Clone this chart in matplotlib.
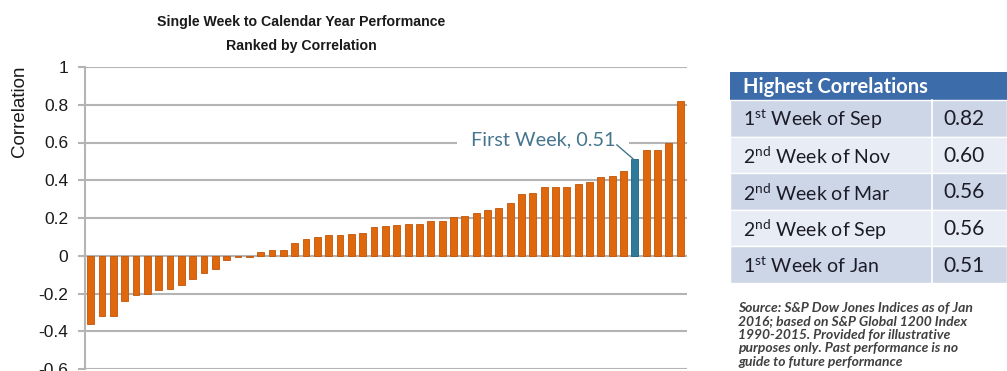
import matplotlib
matplotlib.use("Agg")
import matplotlib.pyplot as plt
from matplotlib import font_manager
from matplotlib.patches import Rectangle

# ---------------- data ----------------
correlations = [-0.36, -0.32, -0.32, -0.24, -0.21, -0.20, -0.18, -0.175, -0.155, -0.125,
                -0.09, -0.07, -0.02, -0.005, -0.005, 0.02, 0.03, 0.03, 0.067, 0.088,
                0.10, 0.108, 0.108, 0.117, 0.122, 0.152, 0.155, 0.161, 0.168, 0.17,
                0.186, 0.186, 0.203, 0.21, 0.226, 0.244, 0.253, 0.281, 0.327, 0.332,
                0.362, 0.362, 0.362, 0.38, 0.392, 0.417, 0.42, 0.45, 0.51, 0.56,
                0.56, 0.60, 0.82]
highlight_index = 48          # "First Week" bar (0-based)
highlight_label = "First Week, 0.51"
y_ticks = [-0.6, -0.4, -0.2, 0, 0.2, 0.4, 0.6, 0.8, 1.0]
y_tick_labels = ["-0.6", "-0.4", "-0.2", "0", "0.2", "0.4", "0.6", "0.8", "1"]

table_title = "Highest Correlations"
table_ordinals = ["1", "2", "2", "2", "1"]
table_suffixes = ["st", "nd", "nd", "nd", "st"]
table_periods = ["Week of Sep", "Week of Nov", "Week of Mar", "Week of Sep", "Week of Jan"]
table_values = [0.82, 0.60, 0.56, 0.56, 0.51]
source_lines = ["Source: S&P Dow Jones Indices as of Jan",
                "2016; based on S&P Global 1200 Index",
                "1990-2015. Provided for illustrative",
                "purposes only. Past performance is no",
                "guide to future performance"]

# ---------------- fonts ----------------
names = {f.name for f in font_manager.fontManager.ttflist}
narrow = "Liberation Sans Narrow" if "Liberation Sans Narrow" in names else "Liberation Sans"
tfont = "Lato" if "Lato" in names else "DejaVu Sans"
plt.rcParams["mathtext.fontset"] = "custom"
plt.rcParams["mathtext.rm"] = tfont

W, H = 1007, 371
fig = plt.figure(figsize=(W / 100, H / 100), dpi=100)
fig.patch.set_facecolor("white")

# ---------------- bar chart ----------------
ax = fig.add_axes([85 / W, 1 - 369 / H, (687 - 85) / W, (369 - 67) / H])
x = list(range(1, len(correlations) + 1))
colors = ["#2e7a9a" if i == highlight_index else "#e0680c" for i in range(len(correlations))]
edges = ["#20627e" if i == highlight_index else "#c0560a" for i in range(len(correlations))]
ax.bar(x, correlations, width=0.6, color=colors, edgecolor=edges, linewidth=0.6, zorder=3)
ax.set_xlim(0.5, len(correlations) + 0.6)
ax.set_ylim(-0.6, 1.0)
ax.set_yticks(y_ticks)
ax.set_yticklabels(y_tick_labels, fontfamily=narrow, fontsize=12.5, color="#1a1a1a")
ax.set_xticks([])
ax.grid(axis="y", color="#b4b4b4", linewidth=1.5, zorder=0)
for s in ["top", "right", "bottom"]:
    ax.spines[s].set_visible(False)
ax.spines["left"].set_color("#b4b4b4")
ax.spines["left"].set_linewidth(1.5)
ax.tick_params(axis="y", length=5, width=1.5, color="#b4b4b4", pad=7)

# annotation for highlighted bar
ax.annotate(highlight_label, xy=(40.9, 0.615), ha="center", va="center",
            fontfamily=tfont, fontsize=14.3, color="#46758f", zorder=5,
            bbox=dict(boxstyle="square,pad=0.7", fc="white", ec="none"))
ax.annotate("", xy=(highlight_index + 0.85, correlations[highlight_index] + 0.003),
            xytext=(47.4, 0.588),
            arrowprops=dict(arrowstyle="-", color="#46758f", lw=1, shrinkA=0, shrinkB=0),
            zorder=6)

# titles
fig.text(301 / W, 1 - 22 / H, "Single Week to Calendar Year Performance", ha="center",
         va="center", fontfamily=narrow, fontweight="bold", fontsize=10.2, color="#1a1a1a")
fig.text(301 / W, 1 - 46 / H, "Ranked by Correlation", ha="center",
         va="center", fontfamily=narrow, fontweight="bold", fontsize=10.2, color="#1a1a1a")
fig.text(20 / W, 1 - 111 / H, "Correlation", rotation=90, ha="center", va="center",
         fontfamily=narrow, fontsize=13.5, color="#1a1a1a")

# ---------------- table ----------------
tx = fig.add_axes([0, 0, 1, 1])
tx.set_xlim(0, W)
tx.set_ylim(H, 0)
tx.axis("off")
tx.patch.set_alpha(0)

left, right, divider = 730, 1007, 932
header_top, header_bot = 72, 100
row_h = (283 - 100) / 5
tx.add_patch(Rectangle((left, header_top), right - left, header_bot - header_top,
                       fc="#3d6cab", ec="none"))
tx.text(743, (header_top + header_bot) / 2 + 1, table_title, ha="left", va="center",
        fontfamily=tfont, fontweight="bold", fontsize=14.5, color="white")
for i in range(len(table_values)):
    top = header_bot + i * row_h
    fc = "#cdd6e6" if i % 2 == 0 else "#e8ecf4"
    tx.add_patch(Rectangle((left, top), right - left, row_h, fc=fc, ec="white", lw=1))
    label = table_ordinals[i] + r"$^{\mathrm{" + table_suffixes[i] + "}}$ " + table_periods[i]
    tx.text(743, top + row_h / 2 + 1, label, ha="left", va="center",
            fontfamily=tfont, fontsize=14, color="#1c1c28")
    tx.text(943, top + row_h / 2 + 1, f"{table_values[i]:.2f}", ha="left", va="center",
            fontfamily=tfont, fontsize=15, color="#1c1c28")
tx.plot([divider, divider], [header_bot, header_bot + 5 * row_h], color="white", lw=1.2)

for k, line in enumerate(source_lines):
    tx.text(738, 308 + k * 13.5, line, ha="left", va="center", fontfamily=tfont,
            fontstyle="italic", fontweight="bold", fontsize=10.0, color="#404040")

fig.savefig("out.png", dpi=100, facecolor="white")
